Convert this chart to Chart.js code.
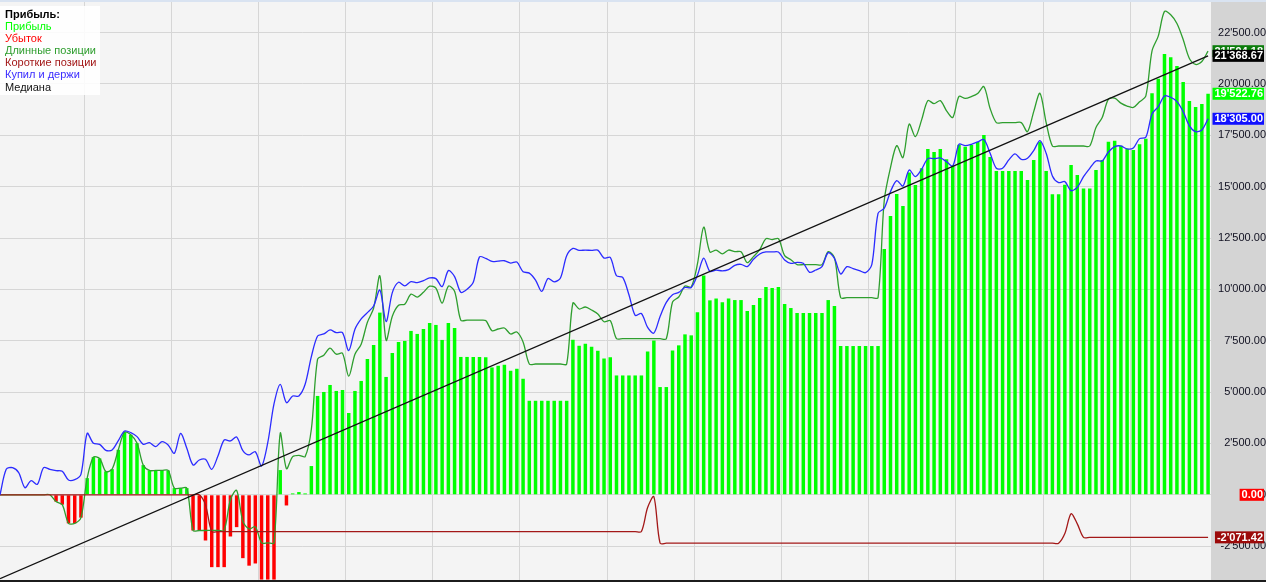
<!DOCTYPE html>
<html><head><meta charset="utf-8">
<script src="https://cdn.jsdelivr.net/npm/chart.js@4/dist/chart.umd.min.js"></script>
<style>html,body{margin:0;padding:0;background:#d4d4d4;overflow:hidden}#wrap{width:1266px;height:582px;position:relative}</style>
</head><body><div id="wrap"><canvas id="c" width="1266" height="582"></canvas></div>
<script>
const legendTitle = 'Прибыль:';
const seriesNames = ['Прибыль','Убыток','Длинные позиции','Короткие позиции','Купил и держи','Медиана'];

const profit = [
0,0,0,0,0,0,0,0,0,
-330,-480,-1390,-1390,-1110,
811,1834,1769,1136,1250,2191,3051,2921,2516,1444,
1185,1185,1185,1185,325,325,325,
-1737,-1737,-2224,-3522,-3522,-3522,
-2029,-1574,-3084,-3450,-3343,-4127,-4127,-4127,
1204,-519,68,133,68,1400,
4812,5006,5347,5055,5103,3983,5055,5542,6613,7295,
8869,5737,6906,7441,7490,7977,7831,8074,8366,8269,
7539,8366,8123,6711,6711,6711,6711,6690,6200,6281,
6330,6038,6135,5648,4577,4577,4577,4577,4577,4577,
4577,7547,7255,7352,7206,7011,6635,6690,5810,5810,
5810,5810,5810,6980,7510,5245,5245,7030,7275,7810,
7762,8882,10675,9466,9555,9370,9560,9480,9480,8947,
9239,9580,10115,10066,10115,9288,9092,8850,8850,8850,
8850,8850,9480,9190,7242,7242,7242,7242,7242,7242,
7242,11970,13571,14643,14055,15694,15078,15898,16834,16688,
16834,16340,16014,17037,16940,17030,17180,17518,16450,15763,
15763,15763,15763,15763,15325,16300,17190,15763,14625,14625,
15095,16053,15566,14909,14909,15809,16297,17190,17239,16995,
16849,16784,17060,17336,19544,20258,21459,21297,20875,20096,
19171,18879,19025,19522.76
];

const longPos = [
0,0,0,0,0,0,0,0,0,
-330,-480,-1390,-1390,-1110,
811,1834,1769,1136,1250,2191,3051,2921,2516,1444,
1185,1185,1185,1185,325,325,325,
-1737,-1737,-1737,-1732,-1732,-1732,
-239,216,-1294,-1660,-1553,-2337,-2337,-2337,
2994,1271,1858,1923,1858,3190,
6602,6796,7137,6845,6893,5773,6845,7332,8403,9085,
10659,7527,8696,9231,9280,9767,9621,9864,10156,10059,
9329,10156,9913,8501,8501,8501,8501,8480,7990,8071,
8120,7828,7925,7438,6367,6367,6367,6367,6367,6367,
6367,9337,9045,9142,8996,8801,8425,8480,7600,7600,
7600,7600,7600,7600,7600,7600,7600,9385,9630,10165,
10117,11237,13030,11821,11910,11725,11915,11835,11835,11302,
11594,11935,12470,12421,12470,11643,11447,11205,11205,11205,
11205,11205,11835,11545,9597,9597,9597,9597,9597,9597,
9597,14325,15926,16998,16410,18049,17433,18253,19189,19043,
19189,18695,18369,19392,19295,19385,19535,19873,18805,18118,
18118,18118,18118,18118,17680,18655,19545,18118,16980,16980,
16980,16980,16980,16980,16980,17880,18368,19261,19310,19066,
18920,18855,19131,19407,21615,22329,23530,23368,22946,22167,
21242,20950,21096,21594.18
];

const shortPos = [
0,0,0,0,0,0,0,0,0,0,0,0,0,0,0,0,0,0,0,0,0,0,0,0,0,0,0,0,0,0,0,0,0,
-490,
-1790,-1790,-1790,-1790,-1790,-1790,-1790,-1790,-1790,-1790,
-1790,-1790,-1790,-1790,-1790,-1790,-1790,-1790,-1790,-1790,
-1790,-1790,-1790,-1790,-1790,-1790,-1790,-1790,-1790,-1790,
-1790,-1790,-1790,-1790,-1790,-1790,-1790,-1790,-1790,-1790,
-1790,-1790,-1790,-1790,-1790,-1790,-1790,-1790,-1790,-1790,
-1790,-1790,-1790,-1790,-1790,-1790,-1790,-1790,-1790,-1790,
-1790,-1790,-1790,-1790,-1790,-1790,-1790,-1790,-1790,-1790,
-620,-90,
-2355,-2355,-2355,-2355,-2355,-2355,-2355,-2355,-2355,-2355,
-2355,-2355,-2355,-2355,-2355,-2355,-2355,-2355,-2355,-2355,
-2355,-2355,-2355,-2355,-2355,-2355,-2355,-2355,-2355,-2355,
-2355,-2355,-2355,-2355,-2355,-2355,-2355,-2355,-2355,-2355,
-2355,-2355,-2355,-2355,-2355,-2355,-2355,-2355,-2355,-2355,
-2355,-2355,-2355,-2355,-2355,-2355,-2355,-2355,-2355,-2355,
-2355,-2355,-2355,-2355,-2355,
-1885,-927,-1414,
-2071.42,-2071.42,-2071.42,-2071.42,-2071.42,-2071.42,-2071.42,
-2071.42,-2071.42,-2071.42,-2071.42,-2071.42,-2071.42,-2071.42,
-2071.42,-2071.42,-2071.42,-2071.42,-2071.42,-2071.42,-2071.42
];

const buyHold = [
0,1240,1321,1078,348,688,510,1321,1240,1175,
1143,720,737,997,2993,2506,2458,2166,2182,2636,
3107,3026,2831,2458,2539,2344,2588,2425,2020,2993,
2263,1451,1694,1727,1240,1889,2669,2620,2815,2150,
1940,2100,1402,2538,4421,5379,4486,4811,4811,5379,
6726,7732,7830,8024,7895,7895,7018,8057,8560,8869,
9193,9972,8430,9842,10345,10166,10377,10328,10426,10556,
10523,10134,10913,10621,9858,10004,10345,11580,11510,11361,
11377,11393,11280,11329,10858,10793,10452,9900,10533,10370,
10550,11637,11994,11897,11913,11897,11913,11523,11556,10663,
10582,9738,8732,8829,8147,7872,8683,9365,9738,9852,
10095,10095,10696,11523,10874,10939,10900,10960,11171,11220,
11107,11464,11724,11821,11821,11821,11431,11269,11318,11269,
10831,10944,11107,11788,11513,10750,11107,11010,10912,10815,
11200,13704,13947,14759,15294,15034,15813,15489,15846,16365,
16365,16397,16219,16008,17063,16998,17063,17177,17291,16625,
15895,15895,16301,16593,16333,16382,16755,17242,16625,15521,
15197,15245,14807,14970,15489,15895,16252,16252,16690,16950,
16982,16836,16885,17339,17404,18540,18897,19416,19352,19141,
18654,17956,17680,17761,18305
];

const medianX = [0, 194];
const medianY = [-4080, 21368.67];

const yTicks = [-2500,0,2500,5000,7500,10000,12500,15000,17500,20000,22500];
const xGrid = [13.5,27.5,41.5,55.5,69.5,83.5,97.5,111.5,125.5,139.5,153.5,167.5,181.5];

const colors = {
  profit:'#00ff00', loss:'#ff0000', long:'#2e9e2e', short:'#a31818', bh:'#2b2bff', med:'#111111',
  longBox:'#0b7d0b', shortBox:'#9c0a0a', bhBox:'#1010ff', medBox:'#000000'
};

function fmt(v){
  const s = v < 0 ? '-' : '';
  const a = Math.abs(v).toFixed(2).split('.');
  return s + a[0].replace(/\B(?=(\d{3})+(?!\d))/g, "'") + '.' + a[1];
}

const pts = arr => arr.map((v,i)=>({x:i,y:v}));
const last = arr => arr[arr.length-1];
const lossLast = profit[profit.length-1] < 0 ? profit[profit.length-1] : 0;

const bgPlugin = {
  id:'bg',
  beforeDraw(ch){
    const c = ch.ctx, a = ch.chartArea;
    c.save();
    c.fillStyle = '#d4d4d4'; c.fillRect(0,0,ch.width,ch.height);
    c.fillStyle = '#f4f4f4'; c.fillRect(a.left,a.top,a.right-a.left,a.bottom-a.top);
    c.restore();
  }
};

const overlay = {
  id:'overlay',
  afterDraw(ch){
    const c = ch.ctx, ys = ch.scales.y;
    c.save();
    c.fillStyle = 'rgba(255,255,255,0.88)';
    c.fillRect(0,6,100,89);
    c.textBaseline = 'middle'; c.textAlign = 'left';
    c.font = 'bold 11px "Liberation Sans", Arial, sans-serif';
    c.fillStyle = '#000'; c.fillText(legendTitle, 5, 15);
    c.font = '11px "Liberation Sans", Arial, sans-serif';
    const lc = [colors.profit, colors.loss, colors.long, colors.short, '#3a2bff', '#111'];
    seriesNames.forEach((n,k)=>{ c.fillStyle = lc[k]; c.fillText(n, 5, 27 + k*12.1); });
    const boxes = [
      [last(profit) > 0 ? last(profit) : 0, colors.profit],
      [lossLast, colors.loss],
      [last(longPos), colors.longBox],
      [last(shortPos), colors.shortBox],
      [last(buyHold), colors.bhBox],
      [last(medianY), colors.medBox]
    ];
    c.font = 'bold 11px "Liberation Sans", Arial, sans-serif';
    c.textAlign = 'right';
    boxes.forEach(([v,col])=>{
      const y = ys.getPixelForValue(v);
      const t = fmt(v);
      const w = c.measureText(t).width + 3;
      c.fillStyle = col; c.fillRect(1264 - w, y - 6, w, 12);
      c.fillStyle = '#ffffff'; c.fillText(t, 1263, y + 0.5);
    });
    c.fillStyle = '#d9e3f1'; c.fillRect(0,0,ch.width,2);
    c.fillStyle = '#1c1c1c'; c.fillRect(0,580,ch.width,2);
    c.restore();
  }
};

new Chart(document.getElementById('c'), {
  data:{
    datasets:[
      {type:'bar', label:seriesNames[0], data:profit.map((v,i)=>({x:i,y:v>0?v:null})), backgroundColor:colors.profit, borderWidth:0, barPercentage:0.56, categoryPercentage:1, grouped:false, order:10},
      {type:'bar', label:seriesNames[1], data:profit.map((v,i)=>({x:i,y:v<0?v:null})), backgroundColor:colors.loss, borderWidth:0, barPercentage:0.56, categoryPercentage:1, grouped:false, order:9},
      {type:'line', label:seriesNames[2], data:pts(longPos), borderColor:colors.long, borderWidth:1.3, pointRadius:0, tension:0.3, order:5},
      {type:'line', label:seriesNames[3], data:pts(shortPos), borderColor:colors.short, borderWidth:1.3, pointRadius:0, tension:0.3, order:4},
      {type:'line', label:seriesNames[4], data:pts(buyHold), borderColor:colors.bh, borderWidth:1.3, pointRadius:0, tension:0.3, order:3},
      {type:'line', label:seriesNames[5], data:medianX.map((x,k)=>({x:x,y:medianY[k]})), borderColor:colors.med, borderWidth:1.3, pointRadius:0, order:1}
    ]
  },
  options:{
    responsive:false, animation:false, devicePixelRatio:1,
    layout:{padding:0},
    plugins:{legend:{display:false}, tooltip:{enabled:false}},
    scales:{
      x:{type:'linear', min:0, max:194.47, offset:false,
         grid:{color:'#d6d6d6', lineWidth:1, drawTicks:false, offset:false},
         border:{display:false},
         ticks:{display:false},
         afterBuildTicks(s){ s.ticks = xGrid.map(v=>({value:v})); },
         afterFit(s){ s.height = 2; s.paddingLeft = 0; s.paddingRight = 0; }
      },
      y:{type:'linear', position:'right', min:-4147.5, max:24087,
         grid:{color:'#d6d6d6', lineWidth:1, drawTicks:false},
         border:{display:false},
         ticks:{callback:v=>fmt(v), color:'#101020', font:{family:'"Liberation Sans", Arial, sans-serif', size:11}, crossAlign:'far', padding:4},
         afterBuildTicks(s){ s.ticks = yTicks.map(v=>({value:v})); },
         afterFit(s){ s.width = 55; s.paddingTop = 0; s.paddingBottom = 0; }
      }
    }
  },
  plugins:[bgPlugin, overlay]
});
</script></body></html>
